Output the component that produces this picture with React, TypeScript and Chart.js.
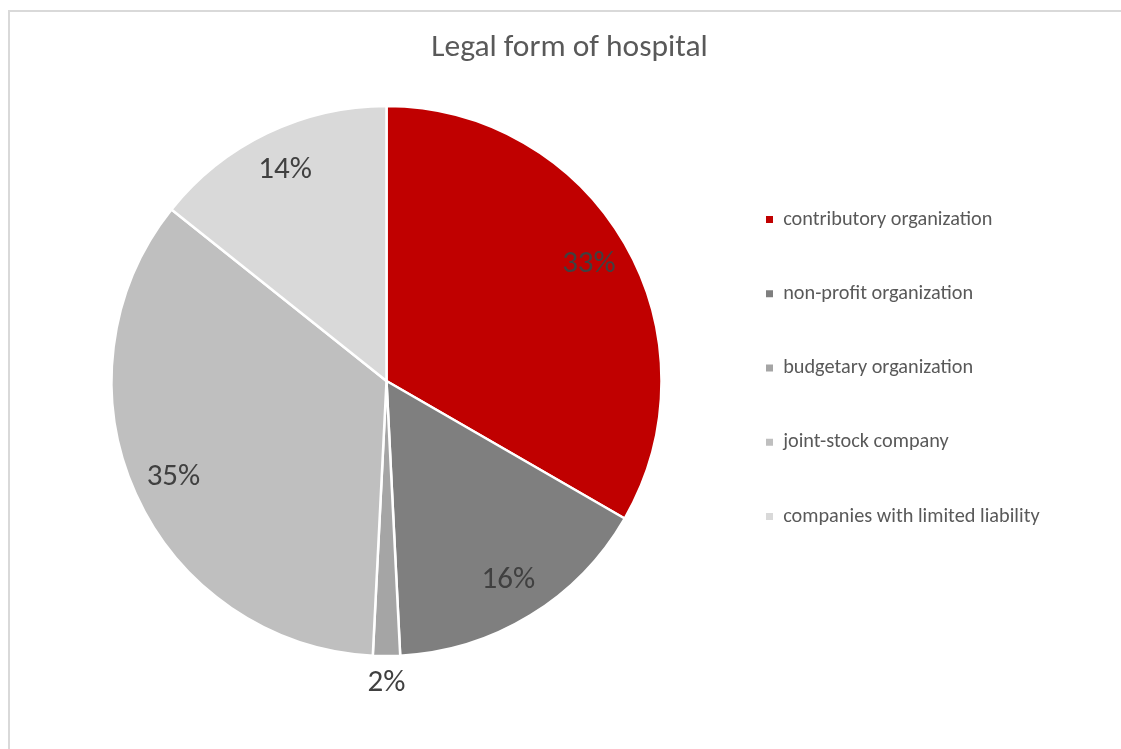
import React, { useEffect, useRef } from 'react';
import { Chart, registerables } from 'chart.js';

Chart.register(...registerables);

// ---- data ----
const TITLE = 'Legal form of hospital';
const categories = [
  'contributory organization',
  'non-profit organization',
  'budgetary organization',
  'joint-stock company',
  'companies with limited liability',
];
const counts = [21, 10, 1, 22, 9];
const sliceColors = ['#C00000', '#7F7F7F', '#A5A5A5', '#BFBFBF', '#D9D9D9'];

// ---- layout / style ----
const W = 1111;
const H = 737;
const FONT = 'Calibri, Carlito, Lato, sans-serif';
const PIE_CX = 376.5;
const PIE_CY = 369;
const PIE_R = 275;
const LEG_BOX_X = 756;
const LEG_FIRST_Y = 207.5;
const LEG_STEP = 74.25;
const LEG_FONT = 20.3;
const LEG_BOX = 7;
const TITLE_CX = 559.5;
const TITLE_Y = 36;
const TITLE_SIZE = 31.5;
const LABEL_SIZE = 31;
const LABEL_INSIDE = 0.85;
const LABEL_OUTSIDE = 27;

const sliceLabels = {
  id: 'sliceLabels',
  afterDatasetsDraw(chart: any) {
    const meta = chart.getDatasetMeta(0);
    const total = counts.reduce((a, b) => a + b, 0);
    const ctx = chart.ctx;
    ctx.save();
    ctx.font = `${LABEL_SIZE}px ${FONT}`;
    ctx.fillStyle = '#404040';
    ctx.textAlign = 'center';
    ctx.textBaseline = 'middle';
    meta.data.forEach((arc: any, i: number) => {
      const { x, y, startAngle, endAngle, outerRadius } = arc.getProps(
        ['x', 'y', 'startAngle', 'endAngle', 'outerRadius'],
        true
      );
      const mid = (startAngle + endAngle) / 2;
      const share = counts[i] / total;
      const r = share < 0.05 ? outerRadius + LABEL_OUTSIDE : outerRadius * LABEL_INSIDE;
      ctx.fillText(`${Math.round(share * 100)}%`, x + Math.cos(mid) * r, y + Math.sin(mid) * r);
    });
    ctx.restore();
  },
};

// centre the title across the whole chart frame rather than the padded box
const titleCentre = {
  id: 'titleCentre',
  afterLayout(chart: any) {
    const t = chart.titleBlock;
    if (t) {
      t.left = 0;
      t.right = 2 * TITLE_CX;
      t.width = t.right - t.left;
    }
  },
};

export default function App() {
  const ref = useRef<HTMLCanvasElement>(null);

  useEffect(() => {
    const canvas = ref.current!;
    const c2 = canvas.getContext('2d')!;
    c2.font = `${LEG_FONT}px ${FONT}`;
    const tw = Math.max(...categories.map((s) => c2.measureText(s).width));

    const legPad = LEG_STEP - LEG_FONT;
    const areaRight = LEG_BOX_X - legPad;
    const areaLeft = 2 * PIE_CX - areaRight;
    const legendWidth = legPad + (LEG_BOX + LEG_FONT / 2 + tw) + 10;
    const padRight = W - areaRight - legendWidth;
    const areaTop = LEG_FIRST_Y - legPad - LEG_FONT / 2;
    const areaBottom = 2 * PIE_CY - areaTop;
    const padBottom = H - areaBottom;
    const titleLine = TITLE_SIZE * 1.2;
    const titlePadTop = TITLE_Y - titleLine / 2;
    const titlePadBottom = areaTop - titlePadTop - titleLine;

    const baseGen = (Chart as any).overrides.doughnut.plugins.legend.labels.generateLabels;

    const chart = new Chart(canvas, {
      type: 'pie',
      data: {
        labels: categories,
        datasets: [
          {
            data: counts,
            backgroundColor: sliceColors,
            borderColor: '#FFFFFF',
            borderWidth: 2.5,
            radius: PIE_R,
            clip: false,
          } as any,
        ],
      },
      options: {
        responsive: false,
        animation: false,
        devicePixelRatio: 1,
        layout: { padding: { left: areaLeft, right: padRight, top: 0, bottom: padBottom } },
        plugins: {
          title: {
            display: true,
            text: TITLE,
            color: '#595959',
            font: { family: FONT, size: TITLE_SIZE, weight: 'normal' },
            padding: { top: titlePadTop, bottom: titlePadBottom },
          },
          legend: {
            position: 'right',
            align: 'start',
            fullSize: false,
            labels: {
              color: '#595959',
              font: { family: FONT, size: LEG_FONT },
              boxWidth: LEG_BOX,
              boxHeight: LEG_BOX,
              padding: legPad,
              generateLabels: (ch: any) =>
                baseGen(ch).map((l: any) => ({ ...l, lineWidth: 0, strokeStyle: l.fillStyle })),
            },
          },
          tooltip: { enabled: false },
        },
      } as any,
      plugins: [sliceLabels, titleCentre],
    });
    return () => chart.destroy();
  }, []);

  return (
    <div
      style={{
        position: 'fixed',
        left: 8,
        top: 10,
        width: 1150,
        height: 780,
        border: '2px solid #D9D9D9',
        background: '#FFFFFF',
        boxSizing: 'border-box',
      }}
    >
      <canvas ref={ref} width={W} height={H} style={{ display: 'block', width: W, height: H }} />
    </div>
  );
}
